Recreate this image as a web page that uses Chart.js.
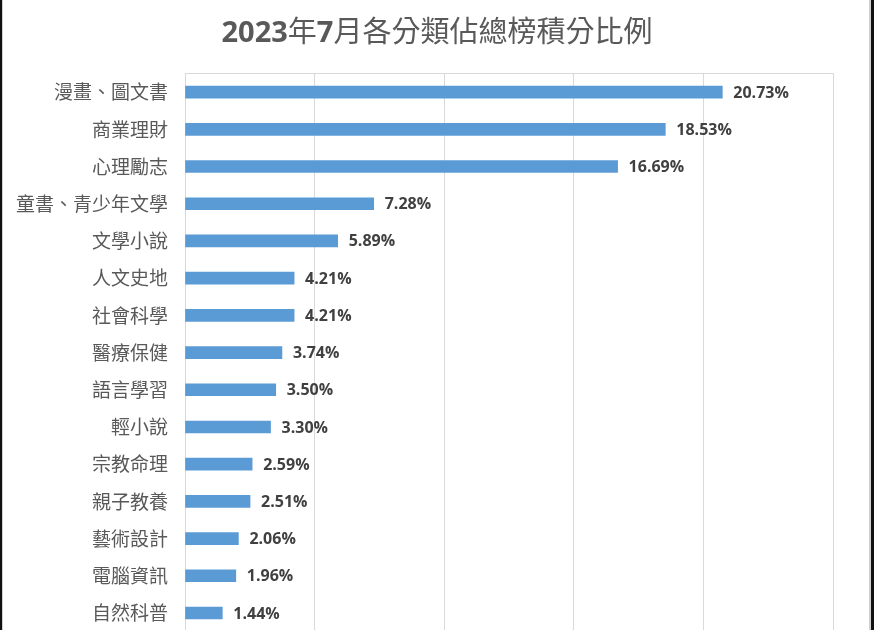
<!DOCTYPE html>
<html>
<head>
<meta charset="utf-8">
<script src="https://cdn.jsdelivr.net/npm/chart.js@4"></script>
<style>
  html, body { margin: 0; padding: 0; background: #fff; overflow: hidden; }
  #wrap { position: relative; width: 874px; height: 630px; overflow: hidden; }
  #title {
    position: absolute; left: 0; top: 11px; width: 874px; text-align: center;
    font-family: "Noto Sans CJK TC", sans-serif; font-size: 29px; color: #595959;
    line-height: 36px;
  }
  #title b { font-family: "Open Sans", "Liberation Sans", sans-serif; font-weight: bold; }
  #chart { position: absolute; left: 0; top: 0; }
  .edge { position: absolute; top: 0; height: 630px; }
</style>
</head>
<body>
<div id="wrap">
  <canvas id="chart" width="874" height="660"></canvas>
  <div id="title"><b>2023</b>年<b>7</b>月各分類佔總榜積分比例</div>
  <div class="edge" style="left:0;width:2px;background:#111;"></div>
  <div class="edge" style="left:2px;width:1px;background:#d0d0d0;"></div>
  <div class="edge" style="left:869px;width:2px;background:#d0d0d0;"></div>
  <div class="edge" style="left:871px;width:3px;background:#111;"></div>
</div>
<script>
// 各分類佔總榜積分比例 (%)
const categories = [
  "漫畫、圖文書", "商業理財", "心理勵志", "童書、青少年文學", "文學小說",
  "人文史地", "社會科學", "醫療保健", "語言學習", "輕小說",
  "宗教命理", "親子教養", "藝術設計", "電腦資訊", "自然科普"
];
const shares = [20.73, 18.53, 16.69, 7.28, 5.89, 4.21, 4.21, 3.74, 3.50, 3.30, 2.59, 2.51, 2.06, 1.96, 1.44];
const axisMax = 25;
const axisStep = 5;

// 數值標籤
const valueLabels = {
  id: "valueLabels",
  afterDatasetsDraw(chart) {
    const ctx = chart.ctx;
    const meta = chart.getDatasetMeta(0);
    ctx.save();
    ctx.font = "bold 16px 'Open Sans', 'Liberation Sans', sans-serif";
    ctx.fillStyle = "#404040";
    ctx.textAlign = "left";
    ctx.textBaseline = "middle";
    meta.data.forEach((bar, i) => {
      ctx.fillText(shares[i].toFixed(2) + "%", bar.x + 11, bar.y + 1);
    });
    ctx.restore();
  }
};

new Chart(document.getElementById("chart"), {
  type: "bar",
  data: {
    labels: categories,
    datasets: [{
      data: shares,
      backgroundColor: "#5b9bd5",
      barThickness: 12
    }]
  },
  options: {
    indexAxis: "y",
    responsive: false,
    animation: false,
    layout: { padding: { top: 73.5, right: 41, bottom: 8, left: 0 } },
    plugins: {
      legend: { display: false },
      tooltip: { enabled: false },
      title: { display: false }
    },
    scales: {
      x: {
        position: "top",
        min: 0,
        max: axisMax,
        ticks: { display: false, stepSize: axisStep },
        grid: { color: "#d9d9d9", drawTicks: false },
        border: { color: "#d9d9d9" }
      },
      y: {
        ticks: {
          color: "#595959",
          padding: 17,
          font: { family: "'Noto Sans CJK TC', sans-serif", size: 19 }
        },
        grid: { display: false, drawTicks: false },
        border: { color: "#d9d9d9" },
        afterFit(scale) { scale.width = 185; }
      }
    }
  },
  plugins: [valueLabels]
});
</script>
</body>
</html>
